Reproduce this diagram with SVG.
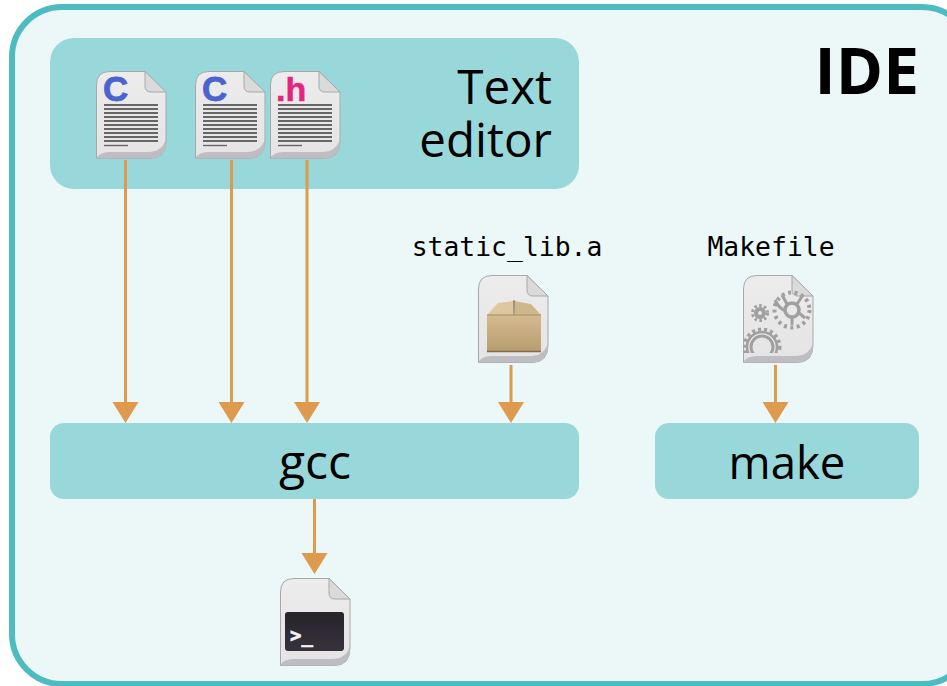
<svg xmlns="http://www.w3.org/2000/svg" width="947" height="686" viewBox="0 0 947 686">
<style>
.box{fill:#99d8da}
.lab{font-family:"Open Sans","Noto Sans",sans-serif;fill:#000}
.mono{font-family:"DejaVu Sans Mono","Liberation Mono",monospace;font-size:26.400px;fill:#000}
.con{stroke:#de9a4e;stroke-width:3;fill:none}
.head{fill:#de9a4e}
.ln{stroke:#3c3c3c;stroke-width:1.600}
.gear{fill:none;stroke:#a0a0a0}
</style>
<defs>
<linearGradient id="page" x1="0" y1="0" x2="0" y2="1"><stop offset="0" stop-color="#ececec"/><stop offset="1" stop-color="#e4e4e4"/></linearGradient>
<linearGradient id="box" x1="0" y1="0" x2="0" y2="1"><stop offset="0" stop-color="#d3bb90"/><stop offset="1" stop-color="#b89c6e"/></linearGradient>
<linearGradient id="term" x1="0" y1="0" x2="0" y2="1"><stop offset="0" stop-color="#27242a"/><stop offset="1" stop-color="#37313c"/></linearGradient>
<clipPath id="cogclip"><rect x="0" y="40" width="70" height="38"/></clipPath>
<g id="doc">
<path d="M14 .5H49L70 21V70Q70 87.500 54 87.500H.5V14Q.5 .5 14 .5Z" fill="url(#page)" stroke="#a8a8a8" stroke-width="1"/>
<path d="M.5 87.500Q3 81 14 81H52Q66 81 70 68V70Q70 87.500 54 87.500Z" fill="#bdbdc2"/>
<path d="M49 .5V15Q49 21 55 21H70Z" fill="#dadada" stroke="#a8a8a8" stroke-width="1"/>
</g>
<g id="lines">
<path class="ln" d="M8 34H62M8 38H62M8 42H62M8 46H62M8 50H62M8 54H62M8 58H62M8 62H62M8 66H62M8 70H62"/>
<path d="M8 74.500H32" stroke="#666" stroke-width="1.400"/>
</g>
</defs>

<rect x="12" y="7" width="960" height="677" rx="50" fill="#ecf8f8" stroke="#4dbcc0" stroke-width="6"/>

<g id="node-ide"><text class="lab" x="919" y="94" text-anchor="end" font-size="64" font-weight="700">IDE</text></g>

<g id="node-text-editor">
<rect class="box" x="50" y="38" width="529" height="151" rx="24"/>
<text class="lab" x="552" y="104" text-anchor="end" font-size="47.500">Text</text>
<text class="lab" x="552" y="157" text-anchor="end" font-size="47.500">editor</text>
</g>

<g id="node-gcc">
<rect class="box" x="50" y="423" width="529" height="76" rx="14"/>
<text class="lab" x="315" y="479" text-anchor="middle" font-size="48">gcc</text>
</g>

<g id="node-make">
<rect class="box" x="655" y="423" width="264" height="76" rx="14"/>
<text class="lab" x="787" y="479" text-anchor="middle" font-size="45.500">make</text>
</g>

<g id="connectors">
<path class="con" d="M125.500 160V403M231.500 160V403M307 160V403M511 365V403M775.500 365V403M314.500 499V554"/>
<path class="head" d="M112.500 402H138.500L125.500 423ZM218.500 402H244.500L231.500 423ZM294 402H320L307 423ZM498 402H524L511 423ZM762.500 402H788.500L775.500 423ZM301.500 553H327.500L314.500 574Z"/>
</g>

<g id="node-c1" transform="translate(96 71)">
<use href="#doc"/><use href="#lines"/>
<text x="7" y="30" font-family="Liberation Sans,sans-serif" font-weight="700" font-size="35" fill="#4a63cf" stroke="#4a63cf" stroke-width=".8">C</text>
</g>
<g id="node-c2" transform="translate(195 71)">
<use href="#doc"/><use href="#lines"/>
<text x="7" y="30" font-family="Liberation Sans,sans-serif" font-weight="700" font-size="35" fill="#4a63cf" stroke="#4a63cf" stroke-width=".8">C</text>
</g>
<g id="node-h" transform="translate(270 71)">
<use href="#doc"/><use href="#lines"/>
<text x="6" y="30" font-family="Liberation Sans,sans-serif" font-weight="700" font-size="34" fill="#e5247f" stroke="#e5247f" stroke-width=".5">.h</text>
</g>

<g id="node-static-lib">
<text class="mono" x="507" y="256" text-anchor="middle">static_lib.a</text>
<g transform="translate(478 275)">
<use href="#doc"/>
<rect x="9" y="40" width="54" height="37" fill="url(#box)"/>
<path d="M9 40L20 28 36 26 35 40Z" fill="#dcc7a0"/>
<path d="M36 26L37 40H63L53 29Z" fill="#cfb78c"/>
<path d="M36 25V40" stroke="#6d5a3c" stroke-width="1"/>
<path d="M9 40H63" stroke="#a88c60" stroke-width="1"/>
<path d="M9 76.500H63" stroke="#7d6c52" stroke-width="1.500"/>
</g>
</g>

<g id="node-makefile">
<text class="mono" x="771" y="256" text-anchor="middle">Makefile</text>
<g transform="translate(743 275)">
<use href="#doc"/>
<circle class="gear" cx="17" cy="38" r="4" stroke-width="4"/>
<circle class="gear" cx="17" cy="38" r="7.500" stroke-width="3" stroke-dasharray="2.500 2.400"/>
<circle class="gear" cx="49" cy="35" r="7" stroke-width="3.500"/>
<path class="gear" stroke-width="3" d="M32 25Q36 33 42 36M56 38L62 43M49 42V50M44 29L39 20M54 29L60 20"/>
<circle class="gear" cx="49" cy="35" r="17.500" stroke-width="4" stroke-dasharray="3 3.500"/>
<g clip-path="url(#cogclip)">
<circle class="gear" cx="19" cy="72" r="11" stroke-width="3"/>
<circle class="gear" cx="19" cy="72" r="15" stroke-width="2.500"/>
<circle class="gear" cx="19" cy="72" r="17.500" stroke-width="4" stroke-dasharray="3 3"/>
</g>
</g>
</g>

<g id="node-binary" transform="translate(280 578)">
<use href="#doc"/>
<rect x="5" y="34" width="59" height="39" rx="3" fill="url(#term)"/>
<text x="10" y="64" font-family="DejaVu Sans Mono,monospace" font-weight="700" font-size="19" fill="#f2f2f2" stroke="#f2f2f2" stroke-width=".6">&gt;_</text>
</g>
</svg>
